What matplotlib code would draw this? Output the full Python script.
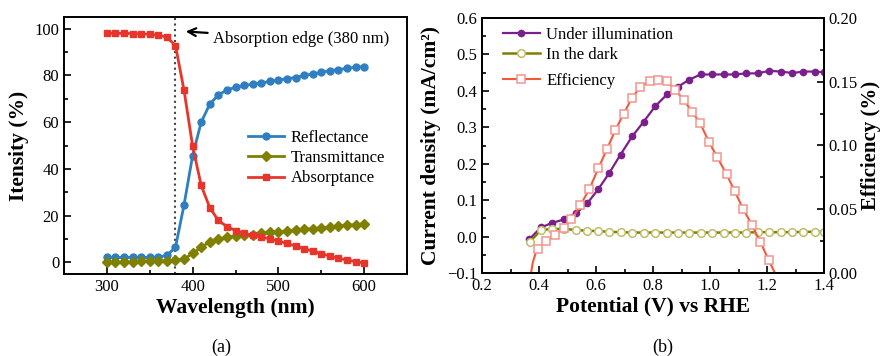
import matplotlib
matplotlib.use("Agg")
import matplotlib.pyplot as plt
from matplotlib.ticker import MultipleLocator, FormatStrFormatter

plt.rcParams['font.family'] = ['Liberation Serif', 'DejaVu Serif']

# ---- panel (a) data ----
wavelength = list(range(300, 610, 10))
reflectance = [2.1, 2.1, 2.1, 2.1, 2.1, 2.1, 2.2, 3.0, 6.4, 24.6, 45.7, 60.0, 67.7,
               71.6, 73.8, 74.9, 75.7, 76.2, 76.8, 77.4, 78.0, 78.6, 79.1, 80.0,
               80.6, 81.3, 82.0, 82.5, 83.0, 83.5, 83.8]
transmittance = [0.0, 0.0, 0.2, 0.3, 0.4, 0.5, 0.6, 0.7, 0.8, 1.4, 3.8, 6.4, 8.8,
                 10.0, 10.7, 11.3, 11.7, 11.9, 12.4, 12.9, 13.1, 13.4, 13.9, 14.1,
                 14.4, 14.8, 15.1, 15.4, 15.9, 16.1, 16.4]
absorptance = [98.0, 98.0, 98.0, 97.9, 97.8, 97.6, 97.2, 96.4, 92.8, 73.6, 49.7,
               32.9, 23.4, 17.9, 15.3, 13.6, 12.4, 11.6, 10.9, 10.0, 9.1, 8.1, 7.0,
               5.8, 4.8, 3.7, 2.7, 1.7, 1.0, 0.3, -0.3]

# ---- panel (b) data ----
v_light = [0.365, 0.407, 0.447, 0.489, 0.530, 0.570, 0.608, 0.647, 0.686, 0.727,
           0.767, 0.808, 0.849, 0.887, 0.928, 0.967, 1.008, 1.048, 1.087, 1.128,
           1.167, 1.208, 1.248, 1.289, 1.328, 1.368, 1.400]
j_light = [-0.008, 0.025, 0.038, 0.047, 0.064, 0.092, 0.130, 0.175, 0.225, 0.275,
           0.315, 0.358, 0.390, 0.411, 0.431, 0.445, 0.445, 0.445, 0.445, 0.448,
           0.448, 0.455, 0.453, 0.449, 0.453, 0.453, 0.451]

v_dark = [0.368, 0.407, 0.447, 0.489, 0.530, 0.568, 0.608, 0.647, 0.687, 0.727,
          0.767, 0.808, 0.848, 0.888, 0.928, 0.968, 1.008, 1.048, 1.088, 1.128,
          1.168, 1.208, 1.248, 1.288, 1.328, 1.368, 1.400]
j_dark = [-0.014, 0.018, 0.021, 0.021, 0.018, 0.016, 0.015, 0.013, 0.012, 0.011,
          0.011, 0.011, 0.011, 0.011, 0.011, 0.011, 0.011, 0.011, 0.011, 0.011,
          0.012, 0.012, 0.012, 0.012, 0.013, 0.013, 0.013]

v_eff = [0.369, 0.372, 0.378, 0.386, 0.395, 0.426, 0.456, 0.486, 0.514, 0.545,
         0.577, 0.608, 0.638, 0.668, 0.697, 0.727, 0.756, 0.788, 0.817, 0.849,
         0.878, 0.908, 0.938, 0.966, 0.996, 1.025, 1.058, 1.087, 1.116, 1.148,
         1.177, 1.206, 1.232]
eff = [-0.003, 0.000, 0.008, 0.014, 0.019, 0.025, 0.030, 0.035, 0.042, 0.053,
       0.066, 0.082, 0.097, 0.112, 0.125, 0.1375, 0.146, 0.1506, 0.1514, 0.1502,
       0.1436, 0.1357, 0.1262, 0.1173, 0.1029, 0.091, 0.0775, 0.064, 0.0504,
       0.0373, 0.0242, 0.0102, -0.002]
eff_marked = list(range(4, len(eff) - 1))

W, H = 884, 356
fig = plt.figure(figsize=(W / 100, H / 100), dpi=100)


def box(l, t, r, b):
    return [l / W, (H - b) / H, (r - l) / W, (b - t) / H]


def style(ax, right=False):
    for s in ax.spines.values():
        s.set_linewidth(1.4)
    ax.tick_params(which='both', direction='in', labelsize=12, width=1.2,
                   top=False, right=right)
    ax.tick_params(which='major', length=5)
    ax.tick_params(which='minor', length=3)


# ---------------- (a) ----------------
ax = fig.add_axes(box(64, 17, 407, 274))
ax.axvline(380, color='#444444', ls=':', lw=1.5, zorder=1)
ax.plot(wavelength, reflectance, '-o', color='#2f7ec1', lw=2, ms=5, label='Reflectance')
ax.plot(wavelength, transmittance, '-D', color='#808000', lw=2, ms=5, label='Transmittance')
ax.plot(wavelength, absorptance, '-s', color='#e8352b', lw=2, ms=5, label='Absorptance')
ax.set_xlim(250, 650)
ax.set_ylim(-5, 105)
ax.xaxis.set_major_locator(MultipleLocator(100))
ax.xaxis.set_minor_locator(MultipleLocator(50))
ax.yaxis.set_major_locator(MultipleLocator(20))
ax.yaxis.set_minor_locator(MultipleLocator(10))
style(ax)
ax.set_xlabel('Wavelength (nm)', fontsize=15.5, fontweight='bold', labelpad=2)
ax.set_ylabel('Itensity (%)', fontsize=15.5, fontweight='bold', labelpad=4)
ax.annotate('Absorption edge (380 nm)', xy=(392, 98.8), xytext=(424, 95.6),
            fontsize=12, va='center', ha='left',
            arrowprops=dict(arrowstyle='->', lw=1.6, color='black',
                            shrinkA=2, shrinkB=0, mutation_scale=14))
ax.legend(loc='upper left', bbox_to_anchor=(0.535, 0.56), frameon=False,
          fontsize=12, handlelength=2.2, handletextpad=0.4, labelspacing=0.25,
          borderpad=0, borderaxespad=0)
fig.text(221 / W, 1 - 347 / H, '(a)', fontsize=13, ha='center', va='center')

# ---------------- (b) ----------------
bx = fig.add_axes(box(482, 18, 824, 273))
bx.plot(v_light, j_light, '-o', color='#7b1f8c', lw=1.6, ms=4.5, label='Under illumination')
bx.plot(v_dark, j_dark, '-o', color='#808000', lw=1.8, ms=5.5, mfc='white',
        mec='#bdbd6a', mew=1.1, label='In the dark')
bx.set_xlim(0.2, 1.4)
bx.set_ylim(-0.1, 0.6)
bx.xaxis.set_major_locator(MultipleLocator(0.2))
bx.xaxis.set_minor_locator(MultipleLocator(0.1))
bx.yaxis.set_major_locator(MultipleLocator(0.1))
bx.yaxis.set_minor_locator(MultipleLocator(0.05))
style(bx)
bx.set_xlabel('Potential (V) vs RHE', fontsize=15.5, fontweight='bold', labelpad=2)
bx.set_ylabel('Current density (mA/cm²)', fontsize=15.5, fontweight='bold', labelpad=4)
bx.legend(loc='upper left', bbox_to_anchor=(0.061, 0.965), frameon=False,
          fontsize=12, handlelength=2.2, handletextpad=0.4, labelspacing=0.25,
          borderpad=0, borderaxespad=0)

tx = bx.twinx()
tx.plot(v_eff, eff, '-s', color='#f05a3a', lw=1.5, ms=5.5, mfc='white',
        mec='#f3958e', mew=1.1, markevery=eff_marked, label='Efficiency')
tx.set_ylim(0, 0.20)
tx.yaxis.set_major_locator(MultipleLocator(0.05))
tx.yaxis.set_minor_locator(MultipleLocator(0.025))
tx.yaxis.set_major_formatter(FormatStrFormatter('%.2f'))
style(tx, right=True)
tx.tick_params(left=False)
tx.set_ylabel('Efficiency (%)', fontsize=15, fontweight='bold', labelpad=2)
tx.legend(loc='upper left', bbox_to_anchor=(0.061, 0.785), frameon=False,
          fontsize=12, handlelength=2.2, handletextpad=0.4,
          borderpad=0, borderaxespad=0)
fig.text(663 / W, 1 - 347 / H, '(b)', fontsize=13, ha='center', va='center')

fig.savefig('out.png', dpi=100)
